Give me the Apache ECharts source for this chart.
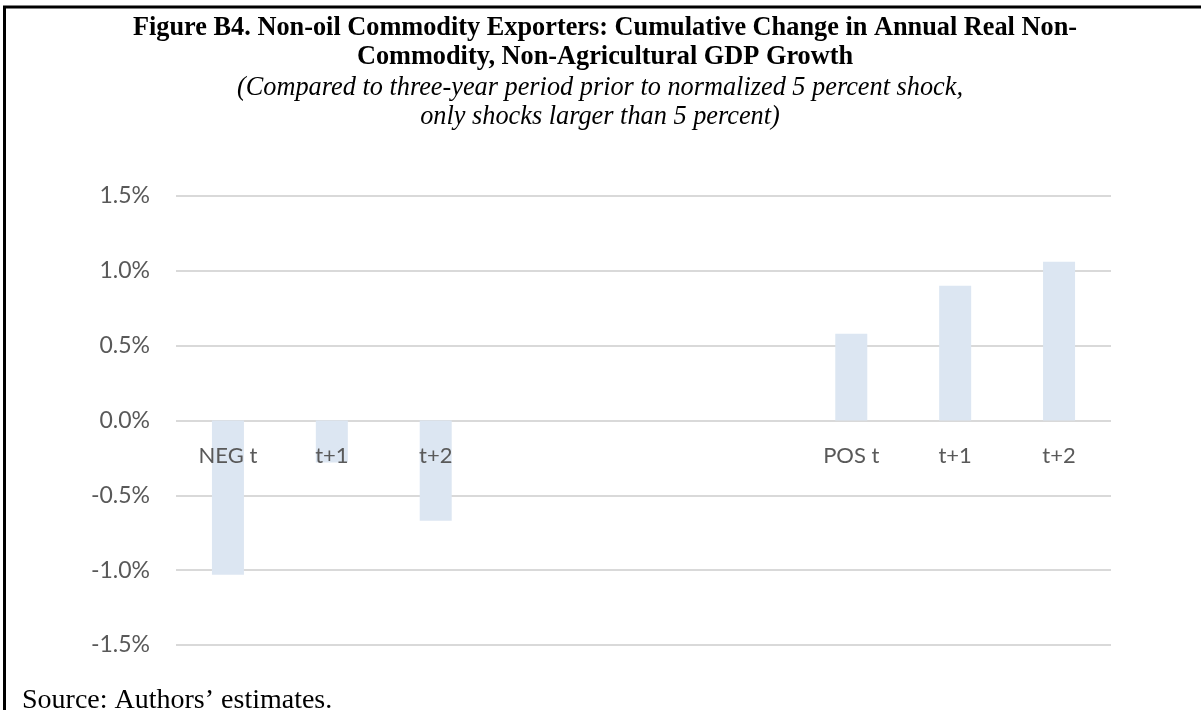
<!DOCTYPE html>
<html>
<head>
<meta charset="utf-8">
<script src="https://cdn.jsdelivr.net/npm/echarts@6/dist/echarts.min.js"></script>
<style>
html,body{margin:0;padding:0;background:#fff;}
#chart{width:1201px;height:710px;}
</style>
</head>
<body>
<div id="chart"></div>
<script>
const categories = ['NEG t', 't+1', 't+2', '', '', '', 'POS t', 't+1', 't+2'];
const values = [-1.03, -0.28, -0.67, null, null, null, 0.58, 0.90, 1.06];
const yTicks = { min: -1.5, max: 1.5, interval: 0.5 };
const titleLines = ['Figure B4. Non-oil Commodity Exporters: Cumulative Change in Annual Real Non-', 'Commodity, Non-Agricultural GDP Growth'];
const subtitleLines = ['(Compared to three-year period prior to normalized 5 percent shock,', 'only shocks larger than 5 percent)'];
const sourceText = 'Source: Authors\u2019 estimates.';

const chart = echarts.init(document.getElementById('chart'), null, {renderer: 'canvas'});
const axisFont = 'Lato, "Open Sans", sans-serif';
const serif = '"Liberation Serif", "Times New Roman", serif';
const gridTop = 196, gridBottomPx = 645;
const headerTexts = [];
titleLines.forEach((t, i) => headerTexts.push({type: 'text', x: 605, y: 15 + i * 29.5,
  style: {text: t, font: 'bold 26.3px ' + serif, fill: '#000', textAlign: 'center', textVerticalAlign: 'top'}}));
subtitleLines.forEach((t, i) => headerTexts.push({type: 'text', x: 600, y: 75 + i * 29.5,
  style: {text: t, font: 'italic 26.3px ' + serif, fill: '#000', textAlign: 'center', textVerticalAlign: 'top'}}));

chart.setOption({
  animation: false,
  backgroundColor: '#ffffff',
  graphic: [
    {type: 'line', shape: {x1: 3, y1: 7, x2: 1201, y2: 7}, style: {stroke: '#000', lineWidth: 3}},
    {type: 'line', shape: {x1: 4.5, y1: 7, x2: 4.5, y2: 710}, style: {stroke: '#000', lineWidth: 3}},
    ...headerTexts,
    {type: 'text', x: 22, y: 687, style: {text: sourceText, font: '28px ' + serif, fill: '#000', textVerticalAlign: 'top'}}
  ],
  grid: {left: 176, right: 90, top: gridTop, bottom: 710 - gridBottomPx, containLabel: false},
  xAxis: {
    type: 'category',
    data: categories,
    position: 'bottom',
    offset: -224,
    z: 10,
    axisLine: {show: false, onZero: false},
    axisTick: {show: false},
    axisLabel: {color: '#595959', fontFamily: axisFont, fontSize: 22, margin: 24, interval: 0},
    splitLine: {show: false}
  },
  yAxis: {
    type: 'value',
    min: yTicks.min, max: yTicks.max, interval: yTicks.interval,
    axisLine: {show: false},
    axisTick: {show: false},
    axisLabel: {color: '#595959', fontFamily: axisFont, fontSize: 23, margin: 26,
      formatter: v => v.toFixed(1) + '%'},
    splitLine: {lineStyle: {color: '#d9d9d9', width: 2}}
  },
  series: [{
    type: 'bar',
    data: values,
    barWidth: 32,
    z: 2,
    itemStyle: {color: '#dce6f2'}
  }]
});
</script>
</body>
</html>
